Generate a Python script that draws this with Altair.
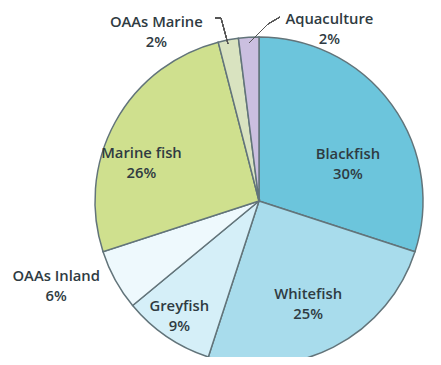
import altair as alt
import pandas as pd

categories = ["Blackfish", "Whitefish", "Greyfish", "OAAs Inland", "Marine fish", "OAAs Marine", "Aquaculture"]
shares = [30, 25, 9, 6, 26, 2, 2]
colors = ["#6cc5dc", "#a8dcec", "#d5eff8", "#eef9fd", "#cfe08e", "#d9e3c0", "#cbbfe0"]

df = pd.DataFrame({"category": categories, "share": shares, "order": list(range(len(categories)))})

FONT = "Open Sans"
TEXT_COLOR = "#2f3b42"

pie = alt.Chart(df).mark_arc(outerRadius=164, stroke="#62747a", strokeWidth=1.5).encode(
    theta=alt.Theta("share:Q", stack=True, scale=alt.Scale(domain=[0, 100])),
    order=alt.Order("order:Q"),
    color=alt.Color("category:N", scale=alt.Scale(domain=categories, range=colors), legend=None),
)

label_base = alt.Chart(df).transform_window(
    cum="sum(share)", sort=[alt.SortField("order")], frame=[None, 0]
).transform_calculate(
    mid="datum.cum - datum.share / 2",
    label="datum.category + '\\n' + datum.share + '%'",
)


def label_layer(cat, radius, dx=0, dy=0):
    return label_base.transform_filter(alt.datum.category == cat).mark_text(
        radius=radius, dx=dx, dy=dy, font=FONT, fontSize=14.8, fontWeight=600,
        color=TEXT_COLOR, lineBreak="\n", lineHeight=20, align="center", baseline="middle",
    ).encode(
        theta=alt.Theta("mid:Q", stack=None, scale=alt.Scale(domain=[0, 100])),
        text="label:N",
    )


labels = [
    label_layer("Blackfish", 100, 8, 13),
    label_layer("Whitefish", 115, -3, -8),
    label_layer("Greyfish", 140, -1, -10),
    label_layer("OAAs Inland", 220, -10, -30),
    label_layer("Marine fish", 125, -8, 13),
    label_layer("OAAs Marine", 185, -68, 4),
    label_layer("Aquaculture", 185, 82, 4),
]


def leader(x1, y1, x2, y2):
    return alt.Chart(df).mark_rule(color="#555555", strokeWidth=1).encode(
        x=alt.value(x1), y=alt.value(y1), x2=alt.value(x2), y2=alt.value(y2)
    )


leaders = [
    leader(121, -28, 127, -28),
    leader(127, -28, 134, -2),
    leader(186, -29, 174, -22),
    leader(174, -22, 155, -3),
]

chart = alt.layer(pie, *leaders, *labels).properties(
    width=330,
    height=310,
    padding={"left": 86, "top": 38, "right": 9, "bottom": 1},
    autosize=alt.AutoSizeParams(type="none"),
    background="white",
).configure_view(stroke=None)

chart.save("out.html", embed_options={"renderer": "svg", "actions": False})
